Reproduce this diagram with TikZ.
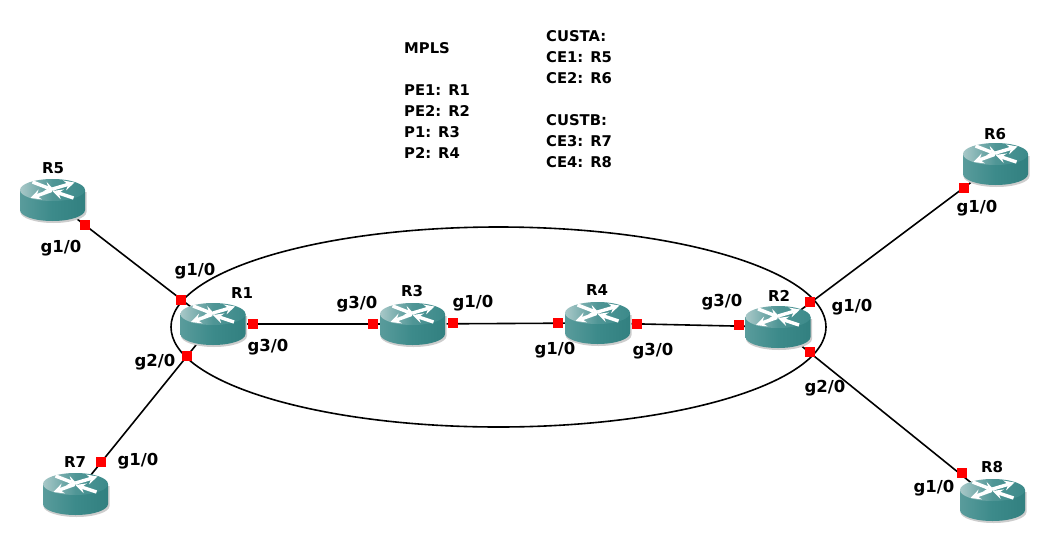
\documentclass[tikz,border=0pt]{standalone}
\usepackage{fontspec}
\setmainfont{DejaVu Sans}
\usetikzlibrary{backgrounds,shapes.geometric}
\definecolor{routerside}{RGB}{60,138,138}
\definecolor{routerdark}{RGB}{50,128,128}
\definecolor{routertop}{RGB}{168,200,200}
\definecolor{routershade}{RGB}{205,205,205}
\tikzset{
	router/.style={
		rectangle,
		minimum width=70pt,
		minimum height=50pt,
		inner sep=0pt,
		path picture={
			\begin{scope}[shift={(path picture bounding box.center)}]
				\fill[routershade] (-32,-8) -- (-32,12) arc[start angle=180,end angle=360,x radius=33pt,y radius=11pt] -- (34,-8) -- cycle;
				\shade[left color=routerside!85!white,right color=routerdark,middle color=routerside]
					(-32.5,-10) -- (-32.5,10) arc[start angle=180,end angle=360,x radius=32.5pt,y radius=11pt] -- (32.5,-10) -- cycle;
				\shade[left color=routertop,right color=routerside,middle color=routerside!90!white]
					(0,-10) ellipse[x radius=32.5pt,y radius=11pt];
				\draw[white,line width=3.4pt,-stealth] (-20,-18) -- (2,-9.5);
				\draw[white,line width=3.4pt,-stealth] (0,-11) -- (22,-17.5);
				\draw[white,line width=3.4pt,-stealth] (-1,-9.5) -- (-22,-2);
				\draw[white,line width=3.4pt,-stealth] (21,-2) -- (0,-9);
			\end{scope}
		}
	},
	port/.style={
		rectangle,
		fill=red,
		minimum size=10pt,
		inner sep=0pt
	},
	link/.style={
		draw=black,
		line width=1.6pt
	},
	boundary/.style={
		ellipse,
		draw=black,
		line width=1.6pt,
		inner sep=0pt
	},
	rname/.style={
		font=\bfseries\fontsize{15}{18}\selectfont,
		inner sep=0pt
	},
	iface/.style={
		font=\bfseries\fontsize{16.5}{20}\selectfont,
		inner sep=0pt
	},
	notes/.style={
		font=\bfseries\fontsize{14.8}{21}\selectfont,
		align=left,
		anchor=north west,
		inner sep=0pt
	},
}
\begin{document}
\begin{tikzpicture}[x=1pt,y=-1pt]
\useasboundingbox (0,0) rectangle (1049,541);

\node [router] (R1) at (213,324) {};
\node [router] (R2) at (778,327) {};
\node [router] (R3) at (412.5,324) {};
\node [router] (R4) at (597.5,323) {};
\node [router] (R5) at (52.5,200) {};
\node [router] (R6) at (995.5,164) {};
\node [router] (R7) at (75.5,494) {};
\node [router] (R8) at (992.5,500) {};

% names of the routers
\node [rname] (n1) at (242,293) {R1};
\node [rname] (n2) at (779,296) {R2};
\node [rname] (n3) at (412,291) {R3};
\node [rname] (n4) at (597,290) {R4};
\node [rname] (n5) at (53,168) {R5};
\node [rname] (n6) at (995,134) {R6};
\node [rname] (n7) at (75,462) {R7};
\node [rname] (n8) at (992,467) {R8};

% ports
\node [port] (p5) at (85,225) {};
\node [port] (p1a) at (181,300) {};
\node [port] (p1b) at (253,324) {};
\node [port] (p1c) at (187,356) {};
\node [port] (p3a) at (373,324) {};
\node [port] (p3b) at (453,323) {};
\node [port] (p4a) at (558,323) {};
\node [port] (p4b) at (637,324) {};
\node [port] (p2c) at (739,325) {};
\node [port] (p2a) at (810,302) {};
\node [port] (p2b) at (810,352) {};
\node [port] (p6) at (964,188) {};
\node [port] (p7) at (101,462) {};
\node [port] (p8) at (962,473) {};

\begin{pgfonlayer}{background}
\node [boundary,minimum width=655pt,minimum height=200pt] (mpls) at (498.5,327) {};
\path
(R5.center) edge[link] (R1.center)
(R1.center) edge[link] (R7.center)
(R1.center) edge[link] (R3.center)
(R3.center) edge[link] (R4.center)
(R4.center) edge[link] (R2.center)
(R2.center) edge[link] (R6.center)
(R2.center) edge[link] (R8.center)
;
\end{pgfonlayer}

% interface labels
\node [iface] (l5) at (61,248) {g1/0};
\node [iface] (l1a) at (195,271) {g1/0};
\node [iface] (l1b) at (268,347) {g3/0};
\node [iface] (l1c) at (155,362) {g2/0};
\node [iface] (l3a) at (357,304) {g3/0};
\node [iface] (l3b) at (473,303) {g1/0};
\node [iface] (l4a) at (555,350) {g1/0};
\node [iface] (l4b) at (653,351) {g3/0};
\node [iface] (l2c) at (722,302) {g3/0};
\node [iface] (l2a) at (852,307) {g1/0};
\node [iface] (l2b) at (825,388) {g2/0};
\node [iface] (l6) at (977,208) {g1/0};
\node [iface] (l7) at (138,461) {g1/0};
\node [iface] (l8) at (934,488) {g1/0};

\node [notes] (core) at (404,42) {MPLS\\[21pt]PE1: R1\\PE2: R2\\P1: R3\\P2: R4};
\node [notes] (cust) at (546,30) {CUSTA:\\CE1: R5\\CE2: R6\\[21pt]CUSTB:\\CE3: R7\\CE4: R8};
\end{tikzpicture}
\end{document}
